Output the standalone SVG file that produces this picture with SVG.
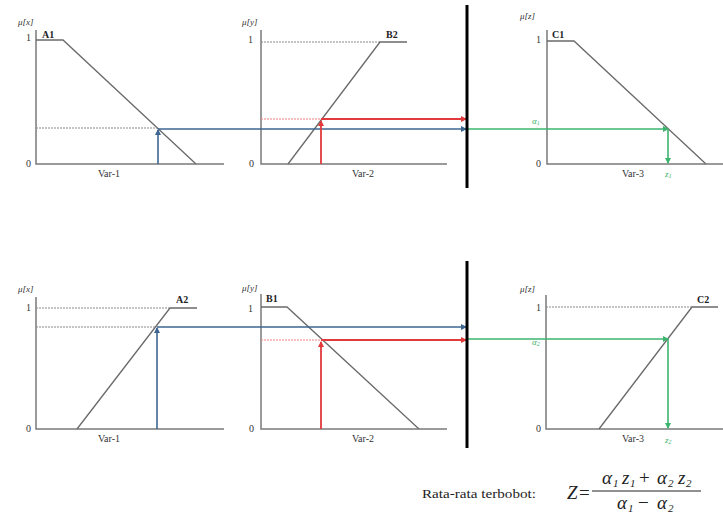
<svg xmlns="http://www.w3.org/2000/svg" width="723" height="516" viewBox="0 0 723 516">
<style>
.ax{stroke:#7a7a7a;stroke-width:1.5;fill:none}
.mf{stroke:#6a6a6a;stroke-width:1.3;fill:none}
.dot{stroke:#8a8a8a;stroke-width:1.2;stroke-dasharray:2,1;fill:none}
.rdot{stroke:#f08080;stroke-width:1.2;stroke-dasharray:2,1;fill:none}
.bl{stroke:#3d6591;stroke-width:1.6;fill:none}
.rd{stroke:#e23a3a;stroke-width:1.8;fill:none}
.gr{stroke:#3cb46e;stroke-width:1.6;fill:none}
.bar{stroke:#000;stroke-width:3}
.t{font-family:"Liberation Serif",serif;font-size:10px;fill:#333}
.v{font-family:"Liberation Serif",serif;font-size:10px;fill:#333;text-anchor:middle}
.lb{font-family:"Liberation Serif",serif;font-size:10px;font-weight:bold;fill:#222}
.mu{font-family:"Liberation Serif",serif;font-size:9px;font-style:italic;fill:#333}
.gt{font-family:"Liberation Serif",serif;font-size:9px;font-style:italic;fill:#3cb46e}
.f{font-family:"Liberation Serif",serif;font-size:13px;fill:#222}
.fm{font-family:"Liberation Serif",serif;font-size:19px;font-style:italic;fill:#222}
.fs{font-family:"Liberation Serif",serif;font-size:11px;font-style:italic;fill:#222}
.fo{font-family:"Liberation Serif",serif;font-size:19px;fill:#222}
</style>
<defs>
<marker id="ab" viewBox="0 0 6 6" refX="5" refY="3" markerWidth="6" markerHeight="6" markerUnits="userSpaceOnUse" orient="auto"><path d="M0,0L6,3L0,6z" fill="#3d6591"/></marker>
<marker id="ar" viewBox="0 0 6 6" refX="5" refY="3" markerWidth="6" markerHeight="6" markerUnits="userSpaceOnUse" orient="auto"><path d="M0,0L6,3L0,6z" fill="#e23a3a"/></marker>
<marker id="ag" viewBox="0 0 6 6" refX="5" refY="3" markerWidth="6" markerHeight="6" markerUnits="userSpaceOnUse" orient="auto"><path d="M0,0L6,3L0,6z" fill="#3cb46e"/></marker>
</defs>

<!-- Top row -->
<g id="panel-A1">
<path class="ax" d="M36,30V164H224"/>
<text class="mu" x="18" y="25">μ[x]</text>
<text class="t" x="26" y="41">1</text>
<text class="t" x="26" y="167">0</text>
<text class="lb" x="42" y="38">A1</text>
<path class="mf" d="M36,40H63L196,164"/>
<path class="dot" d="M36,128H157"/>
<text class="v" x="109" y="177">Var-1</text>
</g>
<g id="panel-B2">
<path class="ax" d="M261,30V164H447"/>
<text class="mu" x="242" y="25">μ[y]</text>
<text class="t" x="248" y="43">1</text>
<text class="t" x="249" y="167">0</text>
<path class="dot" d="M261,42H380"/>
<path class="mf" d="M288,164L380,42H407"/>
<text class="lb" x="386" y="38">B2</text>
<path class="rdot" d="M261,119H320"/>
<text class="v" x="363" y="177">Var-2</text>
</g>
<g id="panel-C1">
<path class="ax" d="M547,30V164H723"/>
<text class="mu" x="520" y="19">μ[z]</text>
<text class="t" x="536" y="43">1</text>
<text class="t" x="536" y="167">0</text>
<text class="lb" x="552" y="38">C1</text>
<path class="mf" d="M547,41H574L706,164"/>
<text class="gt" x="532" y="124">α<tspan font-size="6" dy="1">1</tspan></text>
<text class="v" x="633" y="177">Var-3</text>
<text class="gt" x="665" y="177">z<tspan font-size="6" dy="1">1</tspan></text>
</g>

<!-- Bottom row -->
<g id="panel-A2">
<path class="ax" d="M36,297V429H224"/>
<text class="mu" x="18" y="292">μ[x]</text>
<text class="t" x="26" y="311">1</text>
<text class="t" x="26" y="432">0</text>
<path class="dot" d="M36,308H170"/>
<path class="mf" d="M77,429L170,308H197"/>
<text class="lb" x="176" y="303">A2</text>
<path class="dot" d="M36,327H156"/>
<text class="v" x="109" y="442">Var-1</text>
</g>
<g id="panel-B1">
<path class="ax" d="M261,294V429H447"/>
<text class="mu" x="242" y="291">μ[y]</text>
<text class="t" x="248" y="312">1</text>
<text class="t" x="249" y="432">0</text>
<text class="lb" x="266" y="302">B1</text>
<path class="mf" d="M261,307H287L419,429"/>
<path class="rdot" d="M261,340H320"/>
<text class="v" x="363" y="442">Var-2</text>
</g>
<g id="panel-C2">
<path class="ax" d="M546,295V429H723"/>
<text class="mu" x="520" y="292">μ[z]</text>
<text class="t" x="536" y="311">1</text>
<text class="t" x="536" y="432">0</text>
<path class="dot" d="M546,307H692"/>
<path class="mf" d="M599,429L692,307H718"/>
<text class="lb" x="697" y="303">C2</text>
<text class="gt" x="532" y="345">α<tspan font-size="6" dy="1">2</tspan></text>
<text class="v" x="633" y="442">Var-3</text>
<text class="gt" x="665" y="443">z<tspan font-size="6" dy="1">2</tspan></text>
</g>

<g id="connectors">
<path class="bl" d="M158,164V130" marker-end="url(#ab)"/>
<path class="bl" d="M158,129H466" marker-end="url(#ab)"/>
<path class="rd" d="M321,164V121" marker-end="url(#ar)"/>
<path class="rd" d="M321,119H466" marker-end="url(#ar)"/>
<path class="gr" d="M468,129H668" marker-end="url(#ag)"/>
<path class="gr" d="M668,129V163" marker-end="url(#ag)"/>
<path class="bl" d="M157,429V328" marker-end="url(#ab)"/>
<path class="bl" d="M157,327H466" marker-end="url(#ab)"/>
<path class="rd" d="M321,429V342" marker-end="url(#ar)"/>
<path class="rd" d="M321,340H466" marker-end="url(#ar)"/>
<path class="gr" d="M468,339H668" marker-end="url(#ag)"/>
<path class="gr" d="M668,339V428" marker-end="url(#ag)"/>
</g>

<g id="bars">
<line class="bar" x1="467" y1="5" x2="467" y2="188"/>
<line class="bar" x1="467" y1="261" x2="467" y2="448"/>
</g>

<g id="formula">
<text class="f" x="422" y="498" textLength="114" lengthAdjust="spacingAndGlyphs">Rata-rata terbobot:</text>
<text class="fm" x="567" y="499">Z</text>
<text class="fo" x="579" y="499">=</text>
<line x1="592" y1="491" x2="701" y2="491" stroke="#222" stroke-width="1.2"/>
<text class="fm" x="602" y="484">α</text><text class="fs" x="613" y="487">1</text>
<text class="fm" x="622" y="484">z</text><text class="fs" x="630" y="487">1</text>
<text class="fo" x="639" y="484">+</text>
<text class="fm" x="657" y="484">α</text><text class="fs" x="668" y="487">2</text>
<text class="fm" x="678" y="484">z</text><text class="fs" x="686" y="487">2</text>
<text class="fm" x="617" y="509">α</text><text class="fs" x="628" y="512">1</text>
<text class="fo" x="638" y="509">−</text>
<text class="fm" x="657" y="509">α</text><text class="fs" x="668" y="512">2</text>
</g>
</svg>
